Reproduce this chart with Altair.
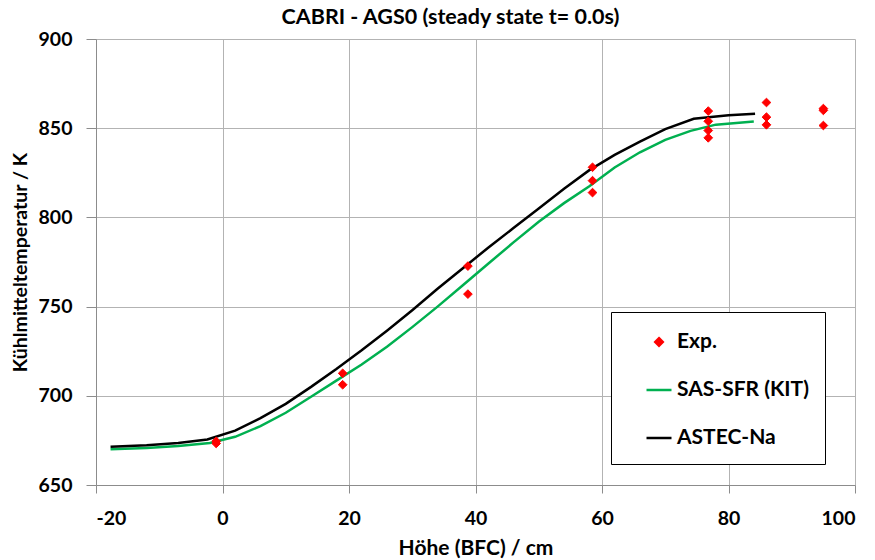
import altair as alt
import pandas as pd

# ---- data ----
astec_x = [-17.7, -12, -7, -2.4, 2, 6, 10, 14, 18, 22, 26, 30, 34, 38, 42, 46, 50, 54, 58, 62, 66, 70, 74.5, 80, 84.2]
astec_y = [671.5, 672.3, 673.5, 675.5, 680.5, 687.5, 695.5, 705, 715, 725.5, 736.5, 748, 760, 771.5, 783, 794, 805, 816, 826.5, 835, 842.5, 849.5, 855.3, 857.2, 858.1]

sas_x = [-17.7, -12, -7, -2, 2, 6, 10, 14, 18, 22, 26, 30, 34, 38, 42, 46, 50, 54, 58, 62, 66, 70, 74, 78, 84]
sas_y = [670, 670.8, 671.8, 673.5, 677, 683, 690.5, 699.5, 708.5, 717.5, 727.5, 738.5, 750, 762, 774, 786, 797.5, 808, 817.5, 828, 836.5, 843.5, 848.5, 852, 853.8]

exp_x = [-1.0, -1.0, 19.0, 19.0, 38.8, 38.8, 58.5, 58.5, 58.5, 76.8, 76.8, 76.8, 76.8, 86.0, 86.0, 86.0, 95.0, 95.0, 95.0]
exp_y = [673.3, 674.5, 712.6, 706.2, 772.7, 757.0, 828.1, 820.6, 813.9, 859.6, 853.9, 848.7, 844.6, 864.4, 856.2, 851.9, 860.0, 861.0, 851.5]

series_names = ["Exp.", "SAS-SFR (KIT)", "ASTEC-Na"]
series_colors = ["#ff0000", "#00b050", "#000000"]

x_ticks = [-20, 0, 20, 40, 60, 80, 100]
y_ticks = [650, 700, 750, 800, 850, 900]

lines_df = pd.concat([
    pd.DataFrame({"x": sas_x, "y": sas_y, "series": series_names[1], "ord": range(len(sas_x))}),
    pd.DataFrame({"x": astec_x, "y": astec_y, "series": series_names[2], "ord": range(len(astec_x))}),
])
exp_df = pd.DataFrame({"x": exp_x, "y": exp_y, "series": series_names[0]})

FONT = "Lato"
color_scale = alt.Scale(domain=series_names, range=series_colors)
shape_scale = alt.Scale(domain=series_names,
                        range=["M0,-0.3L0.3,0L0,0.3L-0.3,0Z", "M-1,0L1,0", "M-1,0L1,0"])

legend = alt.Legend(title=None, orient="none", legendX=515, legendY=273)

x_enc = alt.X("x:Q", scale=alt.Scale(domain=[-20, 100], nice=False, zero=False),
              axis=alt.Axis(values=x_ticks, title="Höhe (BFC) / cm", titleY=63,
                            titleBaseline="middle", labelPadding=16, tickSize=8,
                            titleFontSize=21, labelExpr="'' + datum.value"))
y_enc = alt.Y("y:Q", scale=alt.Scale(domain=[650, 900], nice=False, zero=False),
              axis=alt.Axis(values=y_ticks, title="Kühlmitteltemperatur / K", titleX=-76,
                            titleY=223, titleBaseline="middle", labelPadding=14, tickSize=10,
                            titleFontSize=19.5))

lines = alt.Chart(lines_df).mark_line(strokeWidth=2.5).encode(
    x=x_enc, y=y_enc,
    color=alt.Color("series:N", scale=color_scale, legend=legend),
    detail="series:N",
    order="ord:Q",
)

points = alt.Chart(exp_df).mark_point(filled=False, fill="#ff0000", size=840, strokeWidth=1, opacity=1).encode(
    x="x:Q", y="y:Q",
    color=alt.Color("series:N", scale=color_scale, legend=legend),
    shape=alt.Shape("series:N", scale=shape_scale, legend=legend),
)

chart = alt.layer(lines, points).properties(
    width=759, height=446,
    autosize=alt.AutoSizeParams(type="none"),
    padding={"left": 96, "top": 39, "right": 20, "bottom": 75},
    title=alt.TitleParams("CABRI - AGS0 (steady state t= 0.0s)", anchor="middle", dx=-25,
                          offset=1, frame="group", font=FONT, fontSize=21.5, fontWeight="bold",
                          color="black"),
).configure_view(stroke=None).configure_axis(
    grid=True, gridColor="#b3b3b3", gridWidth=1,
    domainColor="#8c8c8c", tickColor="#8c8c8c",
    labelFont=FONT, labelFontSize=19.5, labelFontWeight="bold", labelColor="black",
    titleFont=FONT, titleFontWeight="bold", titleColor="black",
).configure_legend(
    padding=16, symbolOffset=18, rowPadding=24, labelOffset=4,
    symbolSize=625, symbolStrokeWidth=2.5,
    labelFont=FONT, labelFontSize=21, labelFontWeight="bold", labelColor="black",
    strokeColor="black", fillColor="white",
)

chart.save("out.html", embed_options={"renderer": "svg", "actions": False})
